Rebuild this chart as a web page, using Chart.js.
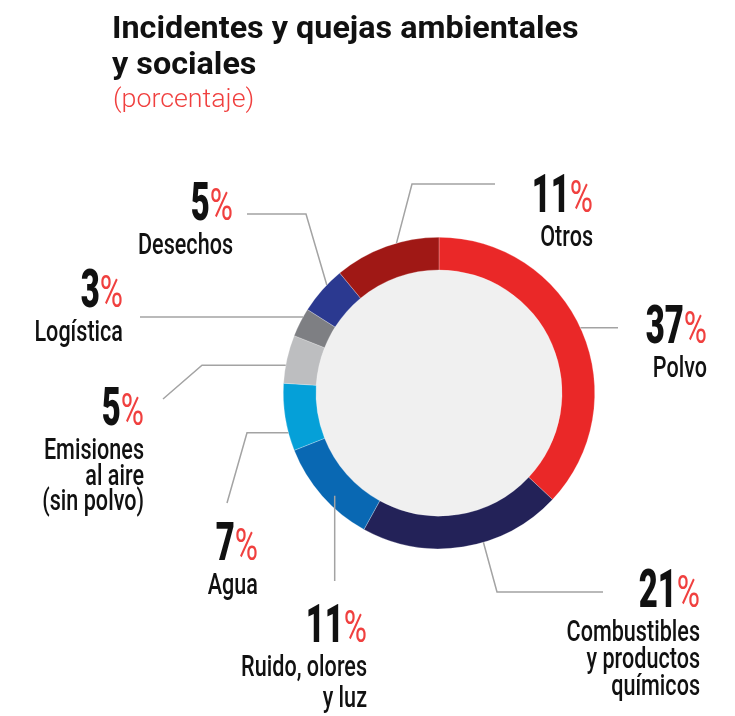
<!DOCTYPE html>
<html>
<head>
<meta charset="utf-8">
<script src="https://cdn.jsdelivr.net/npm/chart.js@4.4.1/dist/chart.umd.min.js"></script>
<style>
  html, body { margin: 0; padding: 0; background: #fff; }
  canvas { display: block; }
</style>
</head>
<body>
<canvas id="incidentsChart" width="735" height="716"></canvas>
<script>
// Datos: incidentes y quejas por tipo (porcentaje)
const categories = ['Polvo', 'Combustibles y productos químicos', 'Ruido, olores y luz', 'Agua',
                    'Emisiones al aire (sin polvo)', 'Logística', 'Desechos', 'Otros'];
const shares = [37, 21, 11, 7, 5, 3, 5, 11];
const labelLines = [
    ['Polvo'],
    ['Combustibles', 'y productos', 'químicos'],
    ['Ruido, olores', 'y luz'],
    ['Agua'],
    ['Emisiones', 'al aire', '(sin polvo)'],
    ['Logística'],
    ['Desechos'],
    ['Otros']
];
const sliceColors = ['#ea2828', '#232258', '#0968b3', '#05a0d8', '#bdbec0', '#7e7f83', '#2b3990', '#a01815'];

const titleLines = ['Incidentes y quejas ambientales', 'y sociales'];
const subtitle = '(porcentaje)';

// Posición de cada etiqueta y su línea guía
// t: punto a lo largo del arco, r: fracción del radio exterior
const labelLayout = [
    { t: 0.49, r: 1.0,  path: [[618, null]],              x: 707, y: 343 },
    { t: 0.40, r: 1.0,  path: [[497, 592], [603, 592]],   x: 700, y: 607 },
    { t: 0.42, r: 0.94, path: [[null, 581]],              x: 367, y: 642, lh: 31 },
    { t: 0.27, r: 1.0,  path: [[247, null], [227, 503]],  x: 258, y: 560 },
    { t: 0.37, r: 1.0,  path: [[202, null], [163, 399]],  x: 144, y: 425, lh: 25.5 },
    { t: 0.70, r: 1.0,  path: [[140, null]],              x: 123, y: 307 },
    { t: 0.64, r: 1.0,  path: [[306, 214], [247, 214]],   x: 233, y: 220 },
    { t: 0.60, r: 1.0,  path: [[412, 184], [495, 184]],   x: 593, y: 212 }
];

const RED = '#f0403f';

// texto horizontalmente comprimido, alineado a la derecha
function squeezedText(ctx, text, xRight, y, font, color, sx) {
    ctx.save();
    ctx.font = font;
    ctx.fillStyle = color;
    ctx.textAlign = 'right';
    ctx.textBaseline = 'alphabetic';
    ctx.translate(xRight, y);
    ctx.scale(sx, 1);
    ctx.fillText(text, 0, 0);
    const w = ctx.measureText(text).width * sx;
    ctx.restore();
    return w;
}

const innerFill = {
    id: 'innerFill',
    beforeDatasetsDraw(chart) {
        const arc = chart.getDatasetMeta(0).data[0];
        if (!arc) return;
        const { ctx } = chart;
        ctx.save();
        ctx.beginPath();
        ctx.arc(arc.x, arc.y, arc.innerRadius, 0, Math.PI * 2);
        ctx.fillStyle = '#f0f0f0';
        ctx.fill();
        ctx.restore();
    }
};

const calloutLabels = {
    id: 'calloutLabels',
    afterDatasetsDraw(chart) {
        const { ctx } = chart;
        const arcs = chart.getDatasetMeta(0).data;

        // título
        titleLines.forEach((line, i) => {
            ctx.save();
            ctx.font = 'bold 32px Roboto';
            ctx.fillStyle = '#111';
            ctx.textAlign = 'left';
            ctx.translate(112, 38 + i * 36);
            ctx.scale(1.01, 1);
            ctx.fillText(line, 0, 0);
            ctx.restore();
        });
        ctx.save();
        ctx.font = '300 26px Roboto';
        ctx.fillStyle = RED;
        ctx.textAlign = 'left';
        ctx.translate(113, 107);
        ctx.scale(1.03, 1);
        ctx.fillText(subtitle, 0, 0);
        ctx.restore();

        arcs.forEach((arc, i) => {
            const lay = labelLayout[i];
            const p = arc.getProps(['x', 'y', 'startAngle', 'endAngle', 'outerRadius'], true);
            const ang = p.startAngle + lay.t * (p.endAngle - p.startAngle);
            const rad = p.outerRadius * lay.r;
            let px = p.x + Math.cos(ang) * rad;
            let py = p.y + Math.sin(ang) * rad;

            // línea guía
            ctx.save();
            ctx.strokeStyle = '#a3a3a3';
            ctx.lineWidth = 1.5;
            ctx.beginPath();
            ctx.moveTo(px, py);
            lay.path.forEach(([nx, ny]) => {
                px = nx === null ? px : nx;
                py = ny === null ? py : ny;
                ctx.lineTo(px, py);
            });
            ctx.stroke();
            ctx.restore();

            // valor: número en negro, signo % en rojo
            const pctW = squeezedText(ctx, '%', lay.x, lay.y, '400 44px Roboto', RED, 0.72);
            squeezedText(ctx, String(shares[i]), lay.x - pctW, lay.y, '900 53px Roboto', '#111', 0.62);

            // nombre de la categoría
            const lh = lay.lh || 27;
            labelLines[i].forEach((line, j) => {
                squeezedText(ctx, line, lay.x, lay.y + 34 + j * lh, '500 30px Roboto', '#111', 0.72);
            });
        });
    }
};

new Chart(document.getElementById('incidentsChart'), {
    type: 'doughnut',
    data: {
        labels: categories,
        datasets: [{
            data: shares,
            backgroundColor: sliceColors,
            borderColor: 'rgba(255,255,255,0.5)',
            borderWidth: 0.5,
            hoverOffset: 0
        }]
    },
    options: {
        responsive: false,
        animation: false,
        cutout: '79%',
        rotation: 0,
        layout: {
            padding: { left: 283, top: 237, right: 140, bottom: 167 }
        },
        plugins: {
            legend: { display: false },
            tooltip: { enabled: false }
        }
    },
    plugins: [innerFill, calloutLabels]
});
</script>
</body>
</html>
